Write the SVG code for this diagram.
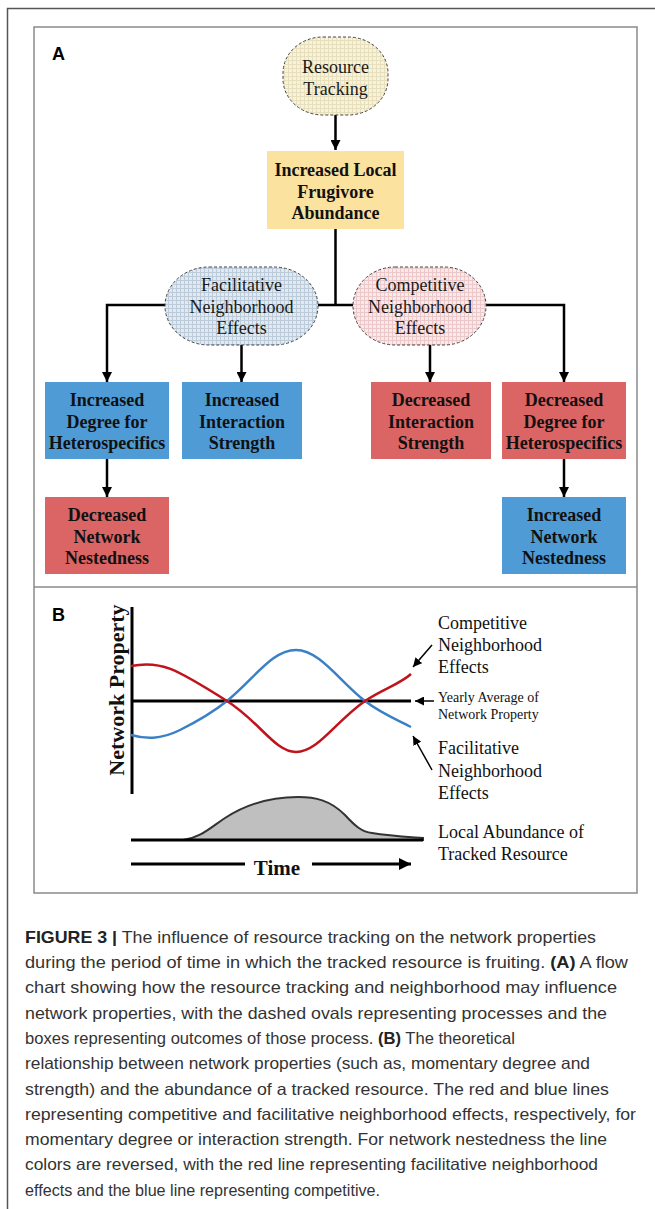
<svg xmlns="http://www.w3.org/2000/svg" width="655" height="1209" viewBox="0 0 655 1209">
<style>
.frame{fill:none;stroke:#8a8a8a;stroke-width:1.5}
.oval{stroke:#444;stroke-width:1;stroke-dasharray:3 2}
.ot{font-family:"Liberation Serif",serif;font-size:18px;fill:#1a1a1a;text-anchor:middle}
.bt{font-family:"Liberation Serif",serif;font-size:18px;font-weight:bold;fill:#111;text-anchor:middle}
.blue{fill:#4e9bd6}
.red{fill:#db6464}
.yel{fill:#fbe29f}
.conn{stroke:#000;stroke-width:2.5;fill:none}
.thin{stroke:#000;stroke-width:1.5;fill:none}
.lbl{font-family:"Liberation Serif",serif;font-size:18px;fill:#111}
.sm{font-family:"Liberation Serif",serif;font-size:14px;fill:#111}
.panel{font-family:"Liberation Sans",sans-serif;font-size:18px;font-weight:bold;fill:#000}
.cap{font-family:"Liberation Sans",sans-serif;font-size:16.5px;fill:#333}
.cap tspan.b{font-weight:bold;fill:#222}
</style>
<defs>
<pattern id="pY" width="4" height="4" patternUnits="userSpaceOnUse"><rect width="4" height="4" fill="#f7f2dc"/><path d="M0 0.5H4M0.5 0V4" stroke="#e8dfbd" stroke-width="1"/></pattern>
<pattern id="pB" width="4" height="4" patternUnits="userSpaceOnUse"><rect width="4" height="4" fill="#e2e9f0"/><path d="M0 0.5H4M0.5 0V4" stroke="#bccbd9" stroke-width="1"/></pattern>
<pattern id="pR" width="4" height="4" patternUnits="userSpaceOnUse"><rect width="4" height="4" fill="#f9e9e9"/><path d="M0 0.5H4M0.5 0V4" stroke="#ecc8ca" stroke-width="1"/></pattern>
<marker id="ah" viewBox="0 0 10 10" refX="10" refY="5" markerWidth="4" markerHeight="4" orient="auto"><path d="M0 0L10 5L0 10z" fill="#000"/></marker>
<marker id="ahs" viewBox="0 0 10 10" refX="10" refY="5" markerWidth="6" markerHeight="6" orient="auto"><path d="M0 0L10 5L0 10z" fill="#000"/></marker>
</defs>
<rect width="655" height="1209" fill="#fff"/>
<!-- page edges -->
<path d="M7.5 1209V8.5H655" fill="none" stroke="#555" stroke-width="1.5"/>
<!-- panel frame -->
<rect class="frame" x="34" y="27" width="603" height="866"/>
<line class="frame" x1="34" y1="587" x2="637" y2="587"/>
<text class="panel" x="52" y="60">A</text>
<text class="panel" x="52" y="621">B</text>

<g id="connectors">
<line class="conn" x1="335.5" y1="115" x2="335.5" y2="150" marker-end="url(#ah)"/>
<polyline class="conn" points="335.5,229 335.5,305"/>
<line class="conn" x1="318" y1="305" x2="353" y2="305"/>
<polyline class="conn" points="166,305 107,305 107,382" marker-end="url(#ah)"/>
<line class="conn" x1="241.5" y1="345" x2="241.5" y2="382" marker-end="url(#ah)"/>
<line class="conn" x1="430" y1="345" x2="430" y2="382" marker-end="url(#ah)"/>
<polyline class="conn" points="486,305 564,305 564,382" marker-end="url(#ah)"/>
<line class="conn" x1="107" y1="459" x2="107" y2="497" marker-end="url(#ah)"/>
<line class="conn" x1="564" y1="459" x2="564" y2="497" marker-end="url(#ah)"/>
</g>

<g id="resource-tracking">
<rect class="oval" x="283" y="37" width="105" height="78" rx="40" ry="36" fill="url(#pY)"/>
<text class="ot" x="335.5" y="73">Resource</text>
<text class="ot" x="335.5" y="95">Tracking</text>
</g>
<g id="frugivore">
<rect class="yel" x="267" y="151" width="137" height="78"/>
<text class="bt" x="335.5" y="176">Increased Local</text>
<text class="bt" x="335.5" y="198">Frugivore</text>
<text class="bt" x="335.5" y="219">Abundance</text>
</g>
<g id="facilitative">
<rect class="oval" x="165" y="267" width="153" height="78" rx="44" ry="39" fill="url(#pB)"/>
<text class="ot" x="241.5" y="291">Facilitative</text>
<text class="ot" x="241.5" y="313">Neighborhood</text>
<text class="ot" x="241.5" y="334">Effects</text>
</g>
<g id="competitive">
<rect class="oval" x="353" y="267" width="133" height="78" rx="42" ry="39" fill="url(#pR)"/>
<text class="ot" x="420" y="291">Competitive</text>
<text class="ot" x="420" y="313">Neighborhood</text>
<text class="ot" x="420" y="334">Effects</text>
</g>
<g id="inc-degree">
<rect class="blue" x="45" y="382" width="124" height="77"/>
<text class="bt" x="107" y="406">Increased</text>
<text class="bt" x="107" y="428">Degree for</text>
<text class="bt" x="107" y="449">Heterospecifics</text>
</g>
<g id="inc-strength">
<rect class="blue" x="182" y="382" width="120" height="77"/>
<text class="bt" x="242" y="406">Increased</text>
<text class="bt" x="242" y="428">Interaction</text>
<text class="bt" x="242" y="449">Strength</text>
</g>
<g id="dec-strength">
<rect class="red" x="371" y="382" width="120" height="77"/>
<text class="bt" x="431" y="406">Decreased</text>
<text class="bt" x="431" y="428">Interaction</text>
<text class="bt" x="431" y="449">Strength</text>
</g>
<g id="dec-degree">
<rect class="red" x="502" y="382" width="124" height="77"/>
<text class="bt" x="564" y="406">Decreased</text>
<text class="bt" x="564" y="428">Degree for</text>
<text class="bt" x="564" y="449">Heterospecifics</text>
</g>
<g id="dec-nested">
<rect class="red" x="45" y="497" width="124" height="77"/>
<text class="bt" x="107" y="521">Decreased</text>
<text class="bt" x="107" y="543">Network</text>
<text class="bt" x="107" y="564">Nestedness</text>
</g>
<g id="inc-nested">
<rect class="blue" x="502" y="497" width="124" height="77"/>
<text class="bt" x="564" y="521">Increased</text>
<text class="bt" x="564" y="543">Network</text>
<text class="bt" x="564" y="564">Nestedness</text>
</g>

<!-- Panel B -->
<g id="plot">
<line x1="132" y1="607" x2="132" y2="794" stroke="#000" stroke-width="3"/>
<text x="124" y="690" transform="rotate(-90 124 690)" text-anchor="middle" font-family="Liberation Serif, serif" font-size="22" font-weight="bold" fill="#111">Network Property</text>
<line x1="131" y1="701" x2="411" y2="701" stroke="#000" stroke-width="3"/>
<path d="M131,735 C145,739 160,740 180,730 C200,720 212,713 227,701 C255,678 272,650 296,650 C320,650 340,682 365,701 C382,714 398,720 411,727" fill="none" stroke="#3a80c6" stroke-width="2.5"/>
<path d="M131,666 C160,660 175,668 227,701 C260,722 275,752 296,752 C318,752 335,722 365,701 C385,688 400,684 411,674" fill="none" stroke="#c0141c" stroke-width="2.5"/>
<path d="M131,840 L183,840 C200,838 210,828 225,818 C245,805 270,797 298,797 C315,797 330,800 345,815 C355,826 362,832 372,833 C390,836 410,837 423,838 L423,840 Z" fill="#bfbfbf" stroke="#333" stroke-width="2"/>
<line x1="131" y1="840" x2="423" y2="840" stroke="#000" stroke-width="3"/>
<line x1="131" y1="864" x2="245" y2="864" stroke="#000" stroke-width="3"/>
<line x1="312" y1="864" x2="411" y2="864" stroke="#000" stroke-width="3" marker-end="url(#ah)"/>
<text x="277" y="875" text-anchor="middle" font-family="Liberation Serif, serif" font-size="21" font-weight="bold" fill="#111">Time</text>
</g>
<g id="plot-labels">
<line class="thin" x1="432" y1="645" x2="413" y2="667" marker-end="url(#ahs)"/>
<text class="lbl" x="438" y="629">Competitive</text>
<text class="lbl" x="438" y="651">Neighborhood</text>
<text class="lbl" x="438" y="673">Effects</text>
<line class="thin" x1="434" y1="701" x2="415" y2="701" marker-end="url(#ahs)"/>
<text class="sm" x="438" y="702">Yearly Average of</text>
<text class="sm" x="438" y="719">Network Property</text>
<line class="thin" x1="432" y1="770" x2="413" y2="736" marker-end="url(#ahs)"/>
<text class="lbl" x="438" y="754">Facilitative</text>
<text class="lbl" x="438" y="777">Neighborhood</text>
<text class="lbl" x="438" y="799">Effects</text>
<text class="lbl" x="438" y="838">Local Abundance of</text>
<text class="lbl" x="438" y="860">Tracked Resource</text>
</g>

<g id="caption">
<text class="cap" x="25" y="943" textLength="571" lengthAdjust="spacingAndGlyphs"><tspan class="b">FIGURE 3 |</tspan> The influence of resource tracking on the network properties</text>
<text class="cap" x="25" y="968" textLength="603" lengthAdjust="spacingAndGlyphs">during the period of time in which the tracked resource is fruiting. <tspan class="b">(A)</tspan> A flow</text>
<text class="cap" x="25" y="993" textLength="592" lengthAdjust="spacingAndGlyphs">chart showing how the resource tracking and neighborhood may influence</text>
<text class="cap" x="25" y="1019" textLength="582" lengthAdjust="spacingAndGlyphs">network properties, with the dashed ovals representing processes and the</text>
<text class="cap" x="25" y="1044" textLength="490" lengthAdjust="spacingAndGlyphs">boxes representing outcomes of those process. <tspan class="b">(B)</tspan> The theoretical</text>
<text class="cap" x="25" y="1069" textLength="565" lengthAdjust="spacingAndGlyphs">relationship between network properties (such as, momentary degree and</text>
<text class="cap" x="25" y="1095" textLength="584" lengthAdjust="spacingAndGlyphs">strength) and the abundance of a tracked resource. The red and blue lines</text>
<text class="cap" x="25" y="1120" textLength="611" lengthAdjust="spacingAndGlyphs">representing competitive and facilitative neighborhood effects, respectively, for</text>
<text class="cap" x="25" y="1145" textLength="582" lengthAdjust="spacingAndGlyphs">momentary degree or interaction strength. For network nestedness the line</text>
<text class="cap" x="25" y="1170" textLength="573" lengthAdjust="spacingAndGlyphs">colors are reversed, with the red line representing facilitative neighborhood</text>
<text class="cap" x="25" y="1196" textLength="355" lengthAdjust="spacingAndGlyphs">effects and the blue line representing competitive.</text>
</g>
</svg>
